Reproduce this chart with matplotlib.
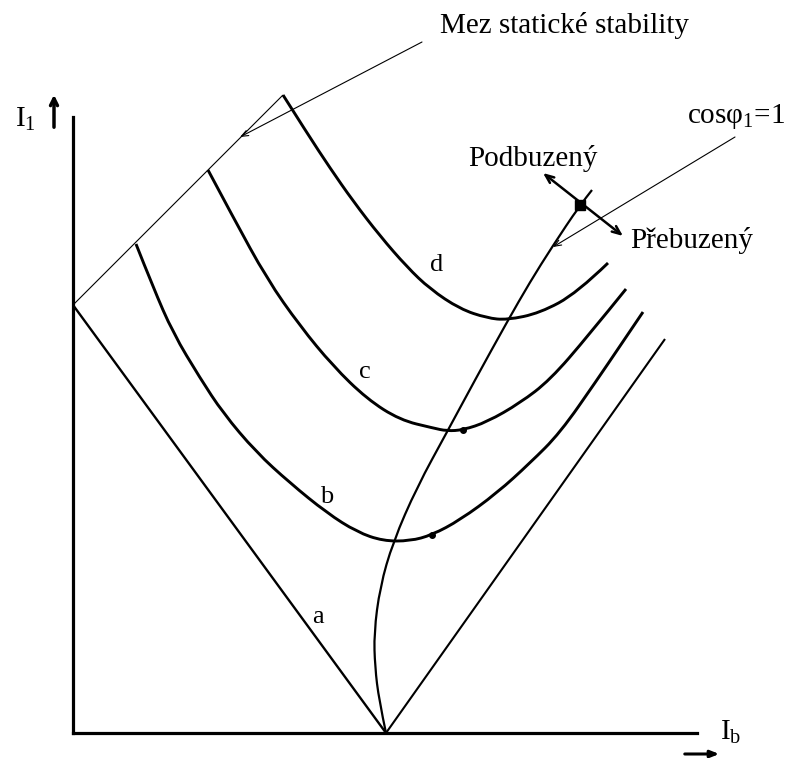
import matplotlib
matplotlib.use("Agg")
import matplotlib.pyplot as plt
from matplotlib.path import Path
from matplotlib.patches import PathPatch

plt.rcParams['font.family'] = ['Liberation Serif', 'DejaVu Serif']
plt.rcParams['mathtext.fontset'] = 'stix'

# ---- data (Ib, I1 in arbitrary units) ----
line_a_x = [0.0, 31.3]
line_a_y = [42.8, 0.0]

line_right_x = [31.3, 59.2]
line_right_y = [0.0, 39.4]

stability_x = [0.0, 21.0]
stability_y = [42.8, 63.8]

curve_b_x = [6.3, 8.0, 10.0, 12.7, 15.0, 18.3, 21.7, 25.4, 28.4, 31.0, 33.7, 35.9,
             38.7, 42.4, 45.7, 48.7, 52.4, 54.7, 57.0]
curve_b_y = [48.9, 44.6, 40.0, 35.5, 32.0, 28.1, 25.0, 22.0, 20.1, 19.2, 19.2, 19.8,
             21.3, 24.0, 27.0, 30.0, 35.3, 38.7, 42.1]

curve_c_x = [13.5, 16.0, 19.4, 22.7, 26.0, 29.4, 32.7, 36.0, 37.4, 39.0, 41.4, 44.7,
             47.7, 51.5, 55.3]
curve_c_y = [56.3, 51.6, 45.4, 40.7, 36.7, 33.4, 31.3, 30.5, 30.2, 30.3, 31.1, 33.0,
             35.3, 39.7, 44.4]

curve_d_x = [21.0, 23.4, 25.7, 28.0, 30.7, 33.4, 35.7, 38.7, 41.4, 43.4, 46.7, 50.4, 53.5]
curve_d_y = [63.8, 60.0, 56.5, 53.2, 49.7, 46.6, 44.4, 42.4, 41.5, 41.3, 42.0, 44.0, 47.0]

cos1_x = [31.3, 30.6, 30.2, 30.1, 30.7, 32.0, 34.4, 37.4, 40.2, 43.4, 45.7, 47.9, 50.7, 51.9]
cos1_y = [0.0, 3.3, 6.6, 10.0, 14.6, 19.1, 24.6, 30.1, 35.3, 41.1, 45.1, 48.6, 52.8, 54.3]

curve_labels = ['a', 'b', 'c', 'd']
curve_label_x = [24.5, 25.4, 29.2, 36.4]
curve_label_y = [11.6, 23.6, 36.1, 46.8]

small_dot_x = [35.9, 39.0]
small_dot_y = [19.8, 30.3]
big_dot_x = [50.7]
big_dot_y = [52.8]


def smooth_path(xs, ys):
    """Quadratic Bezier path using the read points as control points."""
    verts = [(xs[0], ys[0])]
    codes = [Path.MOVETO]
    n = len(xs)
    for i in range(1, n - 1):
        end = (xs[i + 1], ys[i + 1]) if i == n - 2 else \
            ((xs[i] + xs[i + 1]) / 2, (ys[i] + ys[i + 1]) / 2)
        verts += [(xs[i], ys[i]), end]
        codes += [Path.CURVE3, Path.CURVE3]
    if n == 2:
        verts.append((xs[1], ys[1]))
        codes.append(Path.LINETO)
    return Path(verts, codes)


# ---- figure ----
W, H = 793, 758
fig = plt.figure(figsize=(W / 100, H / 100), dpi=100)
fig.patch.set_facecolor('white')
ax = fig.add_axes([73 / W, 25 / H, 624 / W, 616 / H])
ax.set_xlim(0, 62.4)
ax.set_ylim(0, 61.6)
for s in ['top', 'right']:
    ax.spines[s].set_visible(False)
for s in ['left', 'bottom']:
    ax.spines[s].set_linewidth(2.3)
    ax.spines[s].set_color('black')
ax.set_xticks([])
ax.set_yticks([])
ax.patch.set_alpha(0)

kw = dict(color='black', clip_on=False, solid_joinstyle='round', solid_capstyle='butt')
ax.plot(line_a_x, line_a_y, lw=1.7, **kw)
ax.plot(line_right_x, line_right_y, lw=1.5, **kw)
ax.plot(stability_x, stability_y, lw=0.8, **kw)

for xs, ys, lw in [(curve_b_x, curve_b_y, 2.1), (curve_c_x, curve_c_y, 2.1),
                   (curve_d_x, curve_d_y, 2.1), (cos1_x, cos1_y, 1.6)]:
    ax.add_patch(PathPatch(smooth_path(xs, ys), facecolor='none', edgecolor='black',
                           lw=lw, clip_on=False, joinstyle='round', capstyle='butt'))

ax.plot(small_dot_x, small_dot_y, 'o', color='black', ms=4, clip_on=False)
ax.plot(big_dot_x, big_dot_y, 's', color='black', ms=7, clip_on=False)

fs = 21
for lab, x, y in zip(curve_labels, curve_label_x, curve_label_y):
    ax.text(x, y, lab, fontsize=19, ha='center', va='center')

# axis labels with arrows
ax.text(-5.8, 60.6, r'I$\mathregular{_1}$', fontsize=fs, ha='left', va='baseline')
ax.annotate('', xy=(-1.9, 64.1), xytext=(-1.9, 60.3), annotation_clip=False,
            arrowprops=dict(arrowstyle='->,head_length=0.5,head_width=0.25', lw=2.5, color='black'))
ax.text(64.7, -0.7, r'I$\mathregular{_b}$', fontsize=fs, ha='left', va='baseline')
ax.annotate('', xy=(64.9, -2.1), xytext=(60.9, -2.1), annotation_clip=False,
            arrowprops=dict(arrowstyle='-|>,head_length=0.5,head_width=0.2', lw=2.2, color='black'))

# pointer: stability limit
ax.text(36.7, 70.0, 'Mez statické stability', fontsize=fs, ha='left', va='baseline')
ax.annotate('', xy=(16.7, 59.6), xytext=(34.9, 69.1), annotation_clip=False,
            arrowprops=dict(arrowstyle='->,head_length=0.5,head_width=0.2', lw=0.8, color='black',
                            shrinkA=0, shrinkB=0))

# pointer: cos phi = 1
ax.text(61.4, 61.0, r'cos$\mathregular{φ_1}$=1', fontsize=fs, ha='left', va='baseline')
ax.annotate('', xy=(48.0, 48.6), xytext=(66.2, 59.6), annotation_clip=False,
            arrowprops=dict(arrowstyle='->,head_length=0.5,head_width=0.2', lw=0.8, color='black',
                            shrinkA=0, shrinkB=0))

# under/over excited double arrow
ax.annotate('', xy=(47.0, 56.0), xytext=(55.0, 49.7), annotation_clip=False,
            arrowprops=dict(arrowstyle='<->,head_length=0.6,head_width=0.25', lw=1.8, color='black',
                            shrinkA=0, shrinkB=0))
ax.text(39.5, 56.7, 'Podbuzený', fontsize=fs, ha='left', va='baseline')
ax.text(55.7, 48.5, 'Přebuzený', fontsize=fs, ha='left', va='baseline')

fig.savefig('out.png', dpi=100, facecolor='white')
